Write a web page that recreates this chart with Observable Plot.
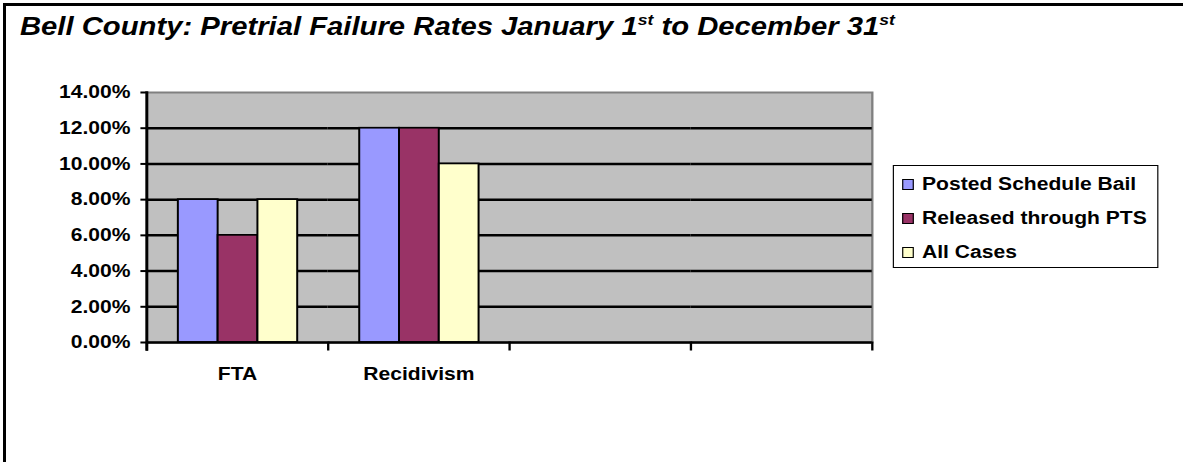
<!DOCTYPE html>
<html>
<head>
<meta charset="utf-8">
<script src="https://cdn.jsdelivr.net/npm/d3@7"></script>
<script src="https://cdn.jsdelivr.net/npm/@observablehq/plot@0.6"></script>
<style>
  html, body { margin: 0; padding: 0; background: #fff; overflow: hidden; }
  body { width: 1183px; height: 462px; position: relative; }
  #sheet-border {
    position: absolute; left: 3px; top: 3px; right: -20px; bottom: -20px;
    border-top: 3px solid #000; border-left: 3px solid #000;
  }
  /* the whole figure is drawn narrow and widened horizontally */
  #fig {
    position: absolute; left: 0; top: 0; width: 1011px; height: 462px;
    transform: scaleX(1.1701); transform-origin: 0 0;
    font-family: Arial, "Liberation Sans", sans-serif;
  }
  #title {
    position: relative; height: 50px; margin: 0;
  }
  #title span.t {
    position: absolute; left: 17px; top: 14px; white-space: nowrap;
    font-size: 25px; font-weight: bold; font-style: italic; line-height: 1; color: #000;
  }
  #title sup { font-size: 15px; line-height: 0; vertical-align: 10px; }
  #legend {
    position: absolute; left: 763px; top: 165px; width: 227px; height: 103px;
    box-sizing: border-box; border: 1.7px solid #000; background: #fff;
  }
  #legend .row {
    position: absolute; left: 7px; height: 20px; display: flex; align-items: center;
    font-size: 18px; font-weight: bold; color: #000; white-space: nowrap;
  }
  #legend .sw {
    width: 10px; height: 11px; box-sizing: border-box; border: 1.5px solid #000; margin-right: 7px;
  }
</style>
</head>
<body>
<div id="sheet-border"></div>
<div id="fig">
  <div id="title"><span class="t">Bell County: Pretrial Failure Rates January 1<sup>st</sup> to December 31<sup>st</sup></span></div>
  <div id="chart"></div>
  <div id="legend"></div>
</div>
<script>
// Categories along the axis (the last two slots are empty)
const categories = ["FTA", "Recidivism", " ", "  "];
// Series shown side by side in each category
const series = ["Posted Schedule Bail", "Released through PTS", "All Cases"];
const seriesColors = ["#9999FF", "#993366", "#FFFFCC"];
// Failure rates per category (FTA, Recidivism)
const postedScheduleBail = [0.08, 0.12];
const releasedThroughPTS = [0.06, 0.12];
const allCases = [0.08, 0.10];
// Value axis ticks
const yTicks = [0, 0.02, 0.04, 0.06, 0.08, 0.10, 0.12, 0.14];
const gridTicks = [0.02, 0.04, 0.06, 0.08, 0.10, 0.12];

const valuesBySeries = [postedScheduleBail, releasedThroughPTS, allCases];
const rows = [];
series.forEach((s, j) => {
  valuesBySeries[j].forEach((v, i) => rows.push({category: categories[i], series: s, value: v}));
});
// horizontal gridlines in every category slot (keeps the empty slots in the layout)
const gridRows = categories.flatMap(c => gridTicks.map(v => ({category: c, value: v})));
const baseRows = categories.map(c => ({category: c, value: 0}));

const H = 412, MT = 42, MB = 120;
const plotH = H - MT - MB;
const pct = d3.format(".2%");

const chart = Plot.plot({
  width: 1011,
  height: H,
  marginTop: MT,
  marginBottom: MB,
  marginLeft: 123,
  marginRight: 265,
  style: {fontFamily: "Arial, 'Liberation Sans', sans-serif", fontSize: "18px", fontWeight: "bold", color: "#000", background: "transparent"},
  fx: {domain: categories, padding: 0, label: null},
  x: {domain: series, paddingInner: 0, paddingOuter: 0.74, axis: null},
  y: {domain: [0, 0.14], label: null},
  color: {domain: series, range: seriesColors},
  marks: [
    Plot.frame({facet: "super", fill: "#C0C0C0", stroke: "#808080", strokeWidth: 2}),
    Plot.ruleY(gridRows, {fx: "category", y: "value", stroke: "#000", strokeWidth: 2.5}),
    Plot.barY(rows, {fx: "category", x: "series", y: "value", fill: "series", stroke: "#000", strokeWidth: 1.7}),
    Plot.ruleY(baseRows, {fx: "category", y: "value", stroke: "#000", strokeWidth: 2.5}),
    Plot.frame({facet: "super", anchor: "left", stroke: "#000", strokeWidth: 2.5, insetBottom: -7}),
    Plot.frame({anchor: "left", insetTop: plotH, insetBottom: -7, stroke: "#000", strokeWidth: 2}),
    Plot.frame({facet: "super", anchor: "right", insetTop: plotH, insetBottom: -7, stroke: "#000", strokeWidth: 2}),
    Plot.axisY({ticks: yTicks, tickSize: 5, tickPadding: 9, tickFormat: pct, strokeWidth: 2, label: null}),
    Plot.axisFx({anchor: "bottom", tickSize: 0, tickPadding: 25, label: null})
  ]
});
document.getElementById("chart").appendChild(chart);

// Legend box
const legend = document.getElementById("legend");
series.forEach((s, j) => {
  const row = document.createElement("div");
  row.className = "row";
  row.style.top = (8.5 + 34 * j) + "px";
  const sw = document.createElement("span");
  sw.className = "sw";
  sw.style.background = seriesColors[j];
  const label = document.createElement("span");
  label.textContent = s;
  row.appendChild(sw);
  row.appendChild(label);
  legend.appendChild(row);
});
</script>
</body>
</html>
